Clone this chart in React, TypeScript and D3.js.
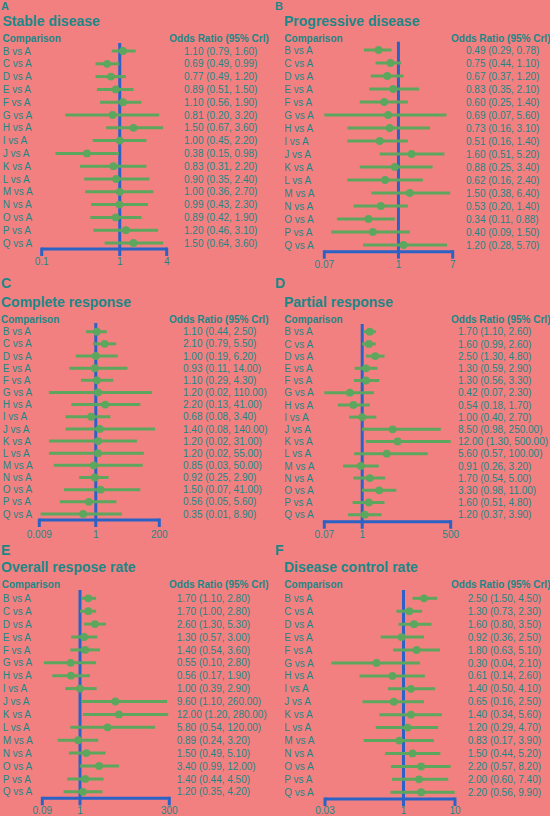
import React from "react";
import * as d3 from "d3";

const comparisons = ["B vs A","C vs A","D vs A","E vs A","F vs A","G vs A","H vs A","I vs A","J vs A","K vs A","L vs A","M vs A","N vs A","O vs A","P vs A","Q vs A"];

const stableOR = [1.10,0.69,0.77,0.89,1.10,0.81,1.50,1.00,0.38,0.83,0.90,1.00,0.99,0.89,1.20,1.50];
const stableLo = [0.79,0.49,0.49,0.51,0.56,0.20,0.67,0.45,0.15,0.31,0.35,0.36,0.43,0.42,0.46,0.64];
const stableHi = [1.60,0.99,1.20,1.50,1.90,3.20,3.60,2.20,0.98,2.20,2.40,2.70,2.30,1.90,3.10,3.60];
const stableTicks = [0.1,1,4];

const progOR = [0.49,0.75,0.67,0.83,0.60,0.69,0.73,0.51,1.60,0.88,0.62,1.50,0.53,0.34,0.40,1.20];
const progLo = [0.29,0.44,0.37,0.35,0.25,0.07,0.16,0.16,0.51,0.25,0.16,0.38,0.20,0.11,0.09,0.28];
const progHi = [0.78,1.10,1.20,2.10,1.40,5.60,3.10,1.40,5.20,3.40,2.40,6.40,1.40,0.88,1.50,5.70];
const progTicks = [0.07,1,7];

const compOR = [1.10,2.10,1.00,0.93,1.10,1.20,2.20,0.68,1.40,1.20,1.20,0.85,0.92,1.50,0.56,0.35];
const compLo = [0.44,0.79,0.19,0.11,0.29,0.02,0.13,0.08,0.08,0.02,0.02,0.03,0.25,0.07,0.05,0.01];
const compHi = [2.50,5.50,6.20,14.00,4.30,110.00,41.00,3.40,140.00,31.00,55.00,50.00,2.90,41.00,5.60,8.90];
const compTicks = [0.009,1,200];

const partOR = [1.70,1.60,2.50,1.30,1.30,0.42,0.54,1.00,8.50,12.00,5.60,0.91,1.70,3.30,1.60,1.20];
const partLo = [1.10,0.99,1.30,0.59,0.56,0.07,0.18,0.40,0.98,1.30,0.57,0.26,0.54,0.98,0.51,0.37];
const partHi = [2.60,2.60,4.80,2.90,3.30,2.30,1.70,2.70,250.00,500.00,100.00,3.20,5.00,11.00,4.80,3.90];
const partTicks = [0.07,1,500];

const orrOR = [1.70,1.70,2.60,1.30,1.40,0.55,0.56,1.00,9.60,12.00,5.80,0.89,1.50,3.40,1.40,1.20];
const orrLo = [1.10,1.00,1.30,0.57,0.54,0.10,0.17,0.39,1.10,1.20,0.54,0.24,0.49,0.99,0.44,0.35];
const orrHi = [2.80,2.80,5.30,3.00,3.60,2.80,1.90,2.90,260.00,280.00,120.00,3.20,5.10,12.00,4.50,4.20];
const orrTicks = [0.09,1,300];

const dcrOR = [2.50,1.30,1.60,0.92,1.80,0.30,0.61,1.40,0.65,1.40,1.20,0.83,1.50,2.20,2.00,2.20];
const dcrLo = [1.50,0.73,0.80,0.36,0.63,0.04,0.14,0.50,0.16,0.34,0.29,0.17,0.44,0.57,0.60,0.56];
const dcrHi = [4.50,2.30,3.50,2.50,5.10,2.10,2.60,4.10,2.50,5.60,4.70,3.90,5.20,8.20,7.40,9.90];
const dcrTicks = [0.03,1,10];

const BG = "#F38080";
const TEAL = "#1B8787";
const GREEN = "#5DA65D";
const BLUE = "#2B62C6";
const FONT = "'Liberation Sans', Arial, Helvetica, sans-serif";

type Layout = {
  letter: string; title: string; letterSize: number;
  letterX: number; letterY: number; titleX: number; titleY: number;
  headX: number; headY: number; labelX: number; orX: number; orHeadX: number;
  row0: number; step: number; axisY: number; vTop: number;
  x0: number; x1: number; tickY: number;
};

function Panel({ L, or, lo, hi, ticks }: { L: Layout; or: number[]; lo: number[]; hi: number[]; ticks: number[] }) {
  const x = d3.scaleLog().domain([ticks[0], ticks[2]]).range([L.x0, L.x1]);
  const y = (i: number) => L.row0 + i * L.step;
  return (
    <g fontFamily={FONT} fill={TEAL}>
      <text x={L.letterX} y={L.letterY} fontSize={L.letterSize} fontWeight="bold">{L.letter}</text>
      <text x={L.titleX} y={L.titleY} fontSize={14} fontWeight="bold">{L.title}</text>
      <text x={L.headX} y={L.headY} fontSize={10} fontWeight="bold">Comparison</text>
      <text x={L.orHeadX} y={L.headY} fontSize={10} fontWeight="bold">Odds Ratio (95% Crl)</text>
      {comparisons.map((c, i) => (
        <text key={"l" + i} x={L.labelX} y={y(i) + 3.6} fontSize={10}>{c}</text>
      ))}
      {comparisons.map((c, i) => (
        <text key={"o" + i} x={L.orX} y={y(i) + 3.6} fontSize={10}>
          {`${or[i].toFixed(2)} (${lo[i].toFixed(2)}, ${hi[i].toFixed(2)})`}
        </text>
      ))}
      <line x1={x(ticks[0])} x2={x(ticks[2])} y1={L.axisY} y2={L.axisY} stroke={BLUE} strokeWidth={3} />
      {ticks.map((t, i) => (
        <g key={"t" + i}>
          <line x1={x(t)} x2={x(t)} y1={t === 1 ? L.vTop : L.axisY - 1.5} y2={L.axisY + 7} stroke={BLUE} strokeWidth={3} />
          <text x={x(t)} y={L.tickY} fontSize={10} textAnchor="middle">{String(t)}</text>
        </g>
      ))}
      {comparisons.map((c, i) => (
        <g key={"m" + i}>
          <line x1={x(lo[i])} x2={x(hi[i])} y1={y(i)} y2={y(i)} stroke={GREEN} strokeWidth={3} />
          <circle cx={x(or[i])} cy={y(i)} r={3.9} fill={GREEN} />
        </g>
      ))}
    </g>
  );
}

const layouts: Layout[] = [
  { letter: "A", title: "Stable disease", letterSize: 11, letterX: 1, letterY: 10.2, titleX: 2.5, titleY: 25.6, headX: 2.5, headY: 41.7, labelX: 2.7, orX: 184, orHeadX: 169.3, row0: 51, step: 12.8, axisY: 249, vTop: 43, x0: 41.7, x1: 166.7, tickY: 265 },
  { letter: "B", title: "Progressive disease", letterSize: 11, letterX: 275, letterY: 10.2, titleX: 284, titleY: 25.6, headX: 284.3, headY: 41.7, labelX: 284.3, orX: 466, orHeadX: 451, row0: 50, step: 13, axisY: 251.7, vTop: 41.7, x0: 324.3, x1: 452.7, tickY: 268 },
  { letter: "C", title: "Complete response", letterSize: 14, letterX: 1, letterY: 288, titleX: 1, titleY: 307.3, headX: 1, headY: 323.3, labelX: 2.7, orX: 183, orHeadX: 169, row0: 331.7, step: 12.15, axisY: 520, vTop: 323, x0: 39.3, x1: 159.3, tickY: 537.7 },
  { letter: "D", title: "Partial response", letterSize: 14, letterX: 275, letterY: 288, titleX: 284, titleY: 307.3, headX: 284.3, headY: 323.3, labelX: 284.3, orX: 458, orHeadX: 451, row0: 331.7, step: 12.2, axisY: 521.7, vTop: 324, x0: 324.3, x1: 450.7, tickY: 537.7 },
  { letter: "E", title: "Overall respose rate", letterSize: 14, letterX: 1, letterY: 555, titleX: 1, titleY: 572, headX: 1.7, headY: 588.3, labelX: 2.7, orX: 176.7, orHeadX: 169, row0: 598.3, step: 12.9, axisY: 798.3, vTop: 590, x0: 42.3, x1: 169.3, tickY: 814 },
  { letter: "F", title: "Disease control rate", letterSize: 14, letterX: 275, letterY: 555, titleX: 284, titleY: 572, headX: 284.3, headY: 588.3, labelX: 284.3, orX: 467.7, orHeadX: 451, row0: 598.3, step: 12.93, axisY: 799, vTop: 590, x0: 325, x1: 455, tickY: 814 },
];

export default function App() {
  return (
    <svg width={550} height={816} style={{ position: "absolute", left: 0, top: 0, display: "block" }}>
      <rect x={0} y={0} width={550} height={816} fill={BG} />
      <Panel L={layouts[0]} or={stableOR} lo={stableLo} hi={stableHi} ticks={stableTicks} />
      <Panel L={layouts[1]} or={progOR} lo={progLo} hi={progHi} ticks={progTicks} />
      <Panel L={layouts[2]} or={compOR} lo={compLo} hi={compHi} ticks={compTicks} />
      <Panel L={layouts[3]} or={partOR} lo={partLo} hi={partHi} ticks={partTicks} />
      <Panel L={layouts[4]} or={orrOR} lo={orrLo} hi={orrHi} ticks={orrTicks} />
      <Panel L={layouts[5]} or={dcrOR} lo={dcrLo} hi={dcrHi} ticks={dcrTicks} />
    </svg>
  );
}
